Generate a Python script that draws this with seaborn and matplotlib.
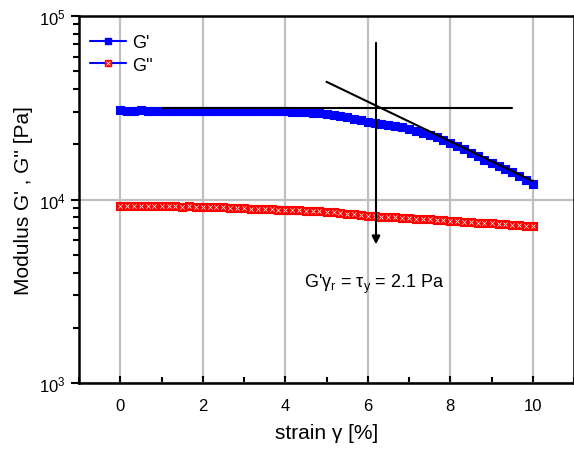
import matplotlib
matplotlib.use("Agg")
import matplotlib.pyplot as plt
import seaborn as sns
import pandas as pd
from matplotlib.lines import Line2D
from matplotlib.legend_handler import HandlerTuple
from matplotlib.ticker import LogLocator, MultipleLocator, NullFormatter

strain = [0.0, 0.17, 0.33, 0.5, 0.67, 0.83, 1.0, 1.17, 1.33, 1.5, 1.67, 1.83,
          2.0, 2.17, 2.33, 2.5, 2.67, 2.83, 3.0, 3.17, 3.33, 3.5, 3.67, 3.83,
          4.0, 4.17, 4.33, 4.5, 4.67, 4.83, 5.0, 5.17, 5.33, 5.5, 5.67, 5.83,
          6.0, 6.17, 6.33, 6.5, 6.67, 6.83, 7.0, 7.17, 7.33, 7.5, 7.67, 7.83,
          8.0, 8.17, 8.33, 8.5, 8.67, 8.83, 9.0, 9.17, 9.33, 9.5, 9.67, 9.83, 10.0]

g_storage = [30600, 30500, 30500, 30600, 30500, 30500, 30500, 30400, 30500, 30500,
             30500, 30400, 30500, 30400, 30500, 30400, 30400, 30500, 30400, 30400,
             30400, 30300, 30300, 30300, 30200, 30100, 30000, 29900, 29700, 29500,
             29300, 28900, 28500, 28000, 27500, 27000, 26600, 26200, 25900, 25500,
             25200, 24700, 24200, 23700, 23100, 22500, 21800, 21100, 20400, 19600,
             18800, 18000, 17300, 16500, 15800, 15200, 14600, 14100, 13400, 12800, 12200]

g_loss = [9250, 9230, 9240, 9220, 9200, 9210, 9180, 9190, 9170, 9150, 9160, 9140,
          9100, 9080, 9060, 9050, 9000, 8980, 8950, 8920, 8900, 8870, 8830, 8800,
          8770, 8740, 8720, 8700, 8680, 8650, 8600, 8520, 8450, 8380, 8300, 8220,
          8150, 8110, 8070, 8020, 7990, 7950, 7900, 7870, 7840, 7800, 7760, 7700,
          7650, 7610, 7570, 7530, 7490, 7440, 7400, 7360, 7320, 7280, 7240, 7210, 7180]

# construction lines (tangents) and yield-point arrow
plateau_x = [1.0, 9.5]
plateau_y = [31700, 31700]
slope_x = [5.0, 10.0]
slope_y = [43800, 12600]
arrow_x = 6.2
arrow_y = [71400, 5690]
note_text = "G'γ$_\\mathrm{r}$ = τ$_\\mathrm{y}$ = 2.1 Pa"
note_pos = (4.45, 3500)

sns.set_theme(style="ticks")
plt.rcParams["font.family"] = ["Liberation Sans", "DejaVu Sans"]
plt.rcParams["mathtext.fontset"] = "custom"
plt.rcParams["mathtext.rm"] = "Liberation Sans"
plt.rcParams["mathtext.it"] = "Liberation Sans:italic"
plt.rcParams["text.color"] = "black"
plt.rcParams["axes.labelcolor"] = "black"
plt.rcParams["xtick.color"] = "black"
plt.rcParams["ytick.color"] = "black"

df = pd.DataFrame({"strain": strain, "Gs": g_storage, "Gl": g_loss})

fig = plt.figure(figsize=(5.74, 4.52), dpi=100)
ax = fig.add_axes([79 / 574, 1 - 384 / 452, 1 - 79 / 574, (384 - 17) / 452])

ax.set_yscale("log")
ax.set_xlim(-1, 11)
ax.set_ylim(1e3, 1e5)

ax.grid(True, which="major", color="#c0c0c0", linewidth=1.6, zorder=0)
ax.set_axisbelow(True)

sns.scatterplot(data=df, x="strain", y="Gs", ax=ax, marker="s", s=28,
                color="#0000ff", edgecolor="#0000ff", linewidth=0.8, zorder=3, legend=False)
sns.scatterplot(data=df, x="strain", y="Gl", ax=ax, marker="s", s=30,
                color="#ff0000", edgecolor="#ff0000", linewidth=0.8, zorder=3, legend=False)
sns.scatterplot(data=df, x="strain", y="Gl", ax=ax, marker="x", s=9,
                color="white", linewidth=0.5, zorder=3, legend=False)

ax.plot(plateau_x, plateau_y, color="black", lw=1.5, zorder=4)
ax.plot(slope_x, slope_y, color="black", lw=1.5, zorder=4)
ax.annotate("", xy=(arrow_x, arrow_y[1]), xytext=(arrow_x, arrow_y[0]),
            arrowprops=dict(arrowstyle="-|>", color="black", lw=1.5,
                            mutation_scale=12, shrinkA=0, shrinkB=0), zorder=5)
ax.text(note_pos[0], note_pos[1], note_text, fontsize=13, va="center", ha="left")

ax.xaxis.set_major_locator(MultipleLocator(2))
ax.xaxis.set_minor_locator(MultipleLocator(1))
ax.yaxis.set_major_locator(LogLocator(base=10))
ax.yaxis.set_minor_locator(LogLocator(base=10, subs=range(2, 10)))
ax.yaxis.set_minor_formatter(NullFormatter())

ax.tick_params(axis="x", which="major", direction="in", length=5, width=1.5,
               labelsize=12, pad=11)
ax.tick_params(axis="x", which="minor", direction="in", length=4, width=1.5)
ax.tick_params(axis="y", which="major", direction="out", length=6, width=1.5,
               labelsize=12)
ax.tick_params(axis="y", which="minor", direction="out", length=4, width=1.5)

for side in ["left", "bottom", "top", "right"]:
    ax.spines[side].set_linewidth(1.8)
    ax.spines[side].set_color("black")

ax.set_xlabel("strain γ [%]", fontsize=15, labelpad=7)
ax.set_ylabel("Modulus G' , G'' [Pa]", fontsize=15, labelpad=4)

h1 = Line2D([], [], color="#0000ff", lw=1.5, marker="s", markersize=5,
            markerfacecolor="#0000ff", markeredgecolor="#0000ff")
h2a = Line2D([], [], color="#0000ff", lw=1.5, marker="s", markersize=5,
             markerfacecolor="#ff0000", markeredgecolor="#ff0000")
h2b = Line2D([], [], color="#0000ff", lw=0, marker="x", markersize=3,
             markeredgecolor="white", markeredgewidth=0.6)
ax.legend([h1, (h2a, h2b)], ["G'", "G''"], loc="upper left",
          bbox_to_anchor=(0.0, 0.98), frameon=False, fontsize=13,
          handlelength=2.0, handletextpad=0.35, borderaxespad=0.2, labelspacing=0.3,
          handler_map={tuple: HandlerTuple(ndivide=1, pad=0)})

fig.savefig("out.png", dpi=100)
